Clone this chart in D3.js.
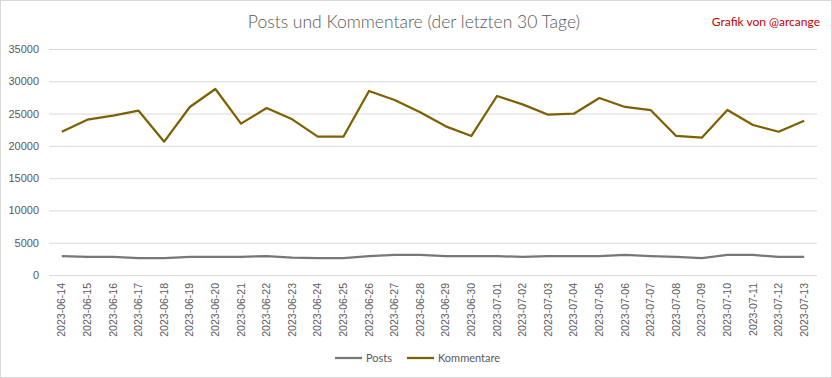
<!DOCTYPE html>
<html>
<head>
<meta charset="utf-8">
<script src="https://cdn.jsdelivr.net/npm/d3@7"></script>
<style>
  body { margin: 0; background: #fff; }
  svg { display: block; font-family: Lato, "Open Sans", sans-serif; }
</style>
</head>
<body>
<div id="chart"></div>
<script>
const dates = [
  "2023-06-14", "2023-06-15", "2023-06-16", "2023-06-17", "2023-06-18", "2023-06-19",
  "2023-06-20", "2023-06-21", "2023-06-22", "2023-06-23", "2023-06-24", "2023-06-25",
  "2023-06-26", "2023-06-27", "2023-06-28", "2023-06-29", "2023-06-30", "2023-07-01",
  "2023-07-02", "2023-07-03", "2023-07-04", "2023-07-05", "2023-07-06", "2023-07-07",
  "2023-07-08", "2023-07-09", "2023-07-10", "2023-07-11", "2023-07-12", "2023-07-13"
];
const posts = [
  2940, 2790, 2790, 2630, 2630, 2790, 2790, 2790, 2940, 2700,
  2630, 2630, 2940, 3100, 3100, 2940, 2940, 2940, 2790, 2940,
  2940, 2940, 3100, 2940, 2790, 2630, 3100, 3100, 2790, 2790
];
const kommentare = [
  22190, 24050, 24670, 25450, 20650, 26020, 28800, 23440, 25860, 24110,
  21420, 21420, 28500, 27100, 25200, 23020, 21530, 27720, 26430, 24830,
  24980, 27410, 26020, 25550, 21530, 21270, 25550, 23230, 22190, 23900
];
const yTicks = [0, 5000, 10000, 15000, 20000, 25000, 30000, 35000];

const series = [
  { name: "Posts", values: posts, color: "#777777" },
  { name: "Kommentare", values: kommentare, color: "#7f6000" }
];

const W = 832, H = 378;
const margin = { top: 49, right: 15, bottom: 103, left: 49 };

const svg = d3.select("#chart").append("svg")
  .attr("width", W).attr("height", H);

svg.append("rect")
  .attr("x", 0.5).attr("y", 0.5).attr("width", W - 1).attr("height", H - 1)
  .attr("fill", "#fff").attr("stroke", "#d9d9d9");

const x = d3.scaleBand().domain(dates).range([margin.left, W - margin.right]);
const y = d3.scaleLinear().domain([0, 35000]).range([H - margin.bottom, margin.top]);

// grid + y labels
svg.append("g")
  .attr("transform", `translate(${margin.left},0)`)
  .call(d3.axisLeft(y).tickValues(yTicks).tickSize(-(W - margin.left - margin.right)).tickFormat(d => d))
  .call(g => g.select(".domain").remove())
  .call(g => g.selectAll(".tick line").attr("stroke", "#d9d9d9"))
  .call(g => g.selectAll(".tick text")
    .attr("x", -10).attr("fill", "#595959").attr("font-size", 11));

// x axis labels
svg.append("g")
  .attr("transform", `translate(0,${H - margin.bottom})`)
  .call(d3.axisBottom(x).tickSize(0))
  .call(g => g.select(".domain").remove())
  .call(g => g.selectAll(".tick text")
    .attr("transform", "rotate(-90)")
    .attr("text-anchor", "end")
    .attr("x", -8).attr("y", 0).attr("dy", "0.35em")
    .attr("fill", "#595959").attr("font-size", 10.5));

const line = d3.line()
  .x((d, i) => x(dates[i]) + x.bandwidth() / 2)
  .y(d => y(d));

series.forEach(s => {
  svg.append("path")
    .attr("d", line(s.values))
    .attr("fill", "none")
    .attr("stroke", s.color)
    .attr("stroke-width", 2.25)
    .attr("stroke-linejoin", "round");
});

// title
svg.append("text")
  .attr("x", 414).attr("y", 28)
  .attr("text-anchor", "middle")
  .attr("fill", "#595959").attr("font-size", 17.5).attr("font-weight", 300)
  .text("Posts und Kommentare (der letzten 30 Tage)");

svg.append("text")
  .attr("x", 820).attr("y", 26)
  .attr("text-anchor", "end")
  .attr("fill", "#c00000").attr("font-size", 12)
  .text("Grafik von @arcange");

// legend
const legendX = [335, 407];
series.forEach((s, i) => {
  const lg = svg.append("g").attr("transform", `translate(${legendX[i]},358)`);
  lg.append("line").attr("x1", 0).attr("x2", 27).attr("stroke", s.color).attr("stroke-width", 2.25);
  lg.append("text").attr("x", 31).attr("dy", "0.35em")
    .attr("fill", "#595959").attr("font-size", 11).text(s.name);
});
</script>
</body>
</html>
